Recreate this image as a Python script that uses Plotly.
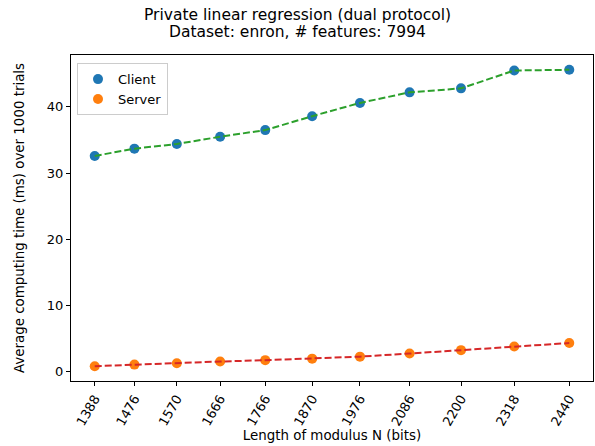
import plotly.graph_objects as go

bits = [1388, 1476, 1570, 1666, 1766, 1870, 1976, 2086, 2200, 2318, 2440]
client_ms = [32.6, 33.7, 34.4, 35.5, 36.5, 38.6, 40.6, 42.2, 42.8, 45.5, 45.6]
server_ms = [0.86, 1.1, 1.3, 1.56, 1.77, 2.0, 2.3, 2.77, 3.28, 3.83, 4.35]
tick_labels = [str(b) for b in bits]
title_lines = ["Private linear regression (dual protocol)", "Dataset: enron, # features: 7994"]

FONT = "DejaVu Sans"
W, H = 595, 446
ML, MR, MT, MB = 71, 2, 55, 65
PW, PH = W - ML - MR, H - MT - MB

fig = go.Figure()
fig.add_trace(go.Scatter(x=bits, y=client_ms, mode="markers", name="Client",
                         marker=dict(color="#1f77b4", size=10)))
fig.add_trace(go.Scatter(x=bits, y=server_ms, mode="markers", name="Server",
                         marker=dict(color="#ff7f0e", size=10)))
fig.add_trace(go.Scatter(x=bits, y=client_ms, mode="lines", showlegend=False,
                         line=dict(color="#2ca02c", width=2, dash="7px,3px")))
fig.add_trace(go.Scatter(x=bits, y=server_ms, mode="lines", showlegend=False,
                         line=dict(color="#d62728", width=2, dash="7px,3px")))

span_x = bits[-1] - bits[0]
ymin = min(server_ms); ymax = max(client_ms)
span_y = ymax - ymin

axis_common = dict(showline=True, mirror=True, linecolor="black", linewidth=1,
                   ticks="outside", ticklen=4, tickcolor="black", showgrid=False,
                   zeroline=False, automargin=False,
                   tickfont=dict(family=FONT, size=13, color="black"))

# title lines as annotations centered on the figure
title_centers_px = [15.5, 32]
for txt, cy in zip(title_lines, title_centers_px):
    fig.add_annotation(text=txt, xref="paper", yref="paper",
                       x=(W / 2 - ML) / PW, y=(H - MB - cy) / PH,
                       xanchor="center", yanchor="middle", showarrow=False,
                       font=dict(family=FONT, size=15.5, color="black"))

fig.update_layout(
    width=W, height=H,
    margin=dict(l=ML, r=MR, t=MT, b=MB, autoexpand=False),
    paper_bgcolor="white", plot_bgcolor="white",
    font=dict(family=FONT, color="black"),
    legend=dict(x=0.0115, y=0.975, xanchor="left", yanchor="top",
                bordercolor="#cccccc", borderwidth=1, bgcolor="rgba(255,255,255,0.8)",
                font=dict(family=FONT, size=13, color="black"),
                tracegroupgap=0),
    xaxis=dict(axis_common, range=[bits[0] - 0.05 * span_x, bits[-1] + 0.05 * span_x],
               tickmode="array", tickvals=bits, ticktext=tick_labels, tickangle=-60,
               title=dict(text="Length of modulus N (bits)", standoff=0,
                          font=dict(family=FONT, size=13.4, color="black"))),
    yaxis=dict(axis_common, range=[ymin - 0.05 * span_y, ymax + 0.05 * span_y],
               tickmode="array", tickvals=[0, 10, 20, 30, 40],
               title=dict(text="Average computing time (ms) over 1000 trials", standoff=19,
                          font=dict(family=FONT, size=13.4, color="black"))),
)

fig.write_html("out.html", config={"displayModeBar": False},
               post_script="document.body.style.margin='0';")
